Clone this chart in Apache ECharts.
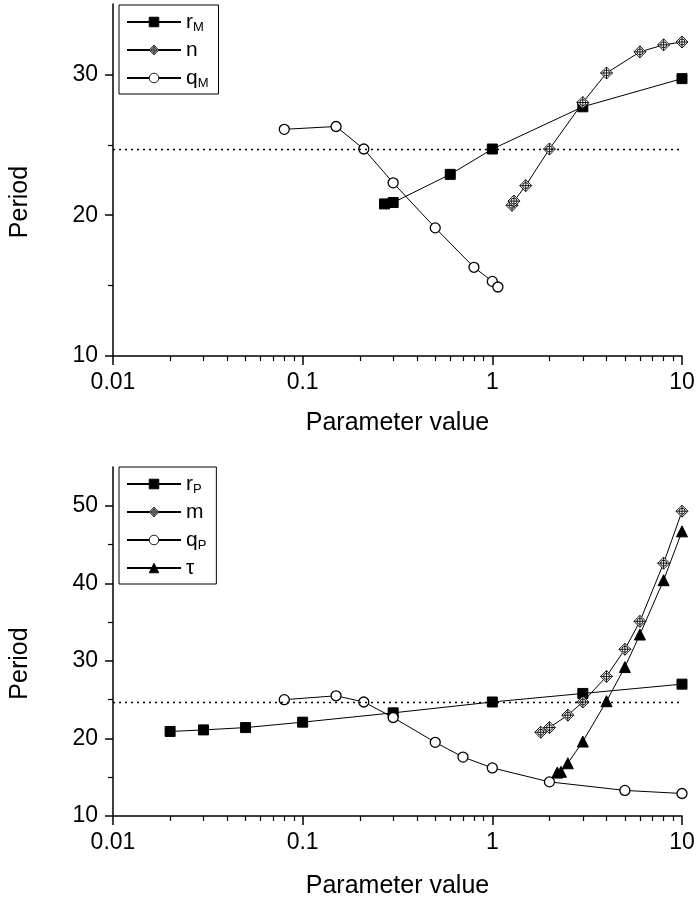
<!DOCTYPE html>
<html>
<head>
<meta charset="utf-8">
<script src="https://cdn.jsdelivr.net/npm/echarts@6/dist/echarts.min.js"></script>
<style>
  html, body { margin: 0; padding: 0; background: #fff; }
  #chart { width: 700px; height: 900px; }
</style>
</head>
<body>
<div id="chart"></div>
<script>
// data, [parameter value, period]
const rM = [[0.27, 20.8], [0.3, 20.9], [0.6, 22.9], [1, 24.7], [3, 27.7], [10, 29.7]]
const nVals = [[1.27, 20.7], [1.3, 21.0], [1.5, 22.1], [2, 24.7], [3, 28.0], [4, 30.1], [6, 31.6], [8, 32.1], [10, 32.3]]
const qM = [[0.08, 26.1], [0.15, 26.3], [0.21, 24.7], [0.3, 22.3], [0.5, 19.1], [0.8, 16.3], [1, 15.3], [1.07, 14.9]]

const rP = [[0.02, 20.9], [0.03, 21.1], [0.05, 21.4], [0.1, 22.1], [0.3, 23.3], [1, 24.7], [3, 25.8], [10, 27.0]]
const mVals = [[1.8, 20.8], [2, 21.4], [2.5, 23.0], [3, 24.7], [4, 28.0], [5, 31.5], [6, 35.1], [8, 42.6], [10, 49.3]]
const qP = [[0.08, 25.0], [0.15, 25.5], [0.21, 24.7], [0.3, 22.7], [0.5, 19.5], [0.7, 17.6], [1, 16.2], [2, 14.4], [5, 13.3], [10, 12.9]]
const tau = [[2.2, 15.6], [2.3, 15.7], [2.5, 16.8], [3, 19.6], [4, 24.8], [5, 29.2], [6, 33.4], [8, 40.4], [10, 46.7]]

const refPeriod = 24.7
const xMajorTicks = [0.01, 0.1, 1, 10]
const yTopMajor = [10, 20, 30]
const yTopMinor = [15, 25]
const yBotMajor = [10, 20, 30, 40, 50]
const yBotMinor = [15, 25, 35, 45]

// minor log ticks 2..9 in every decade
const xMinorTicks = []
for (const d of [0.01, 0.1, 1]) {
  for (let k = 2; k <= 9; k++) xMinorTicks.push(+(k * d).toFixed(4))
}

const FONT = 'Liberation Sans, Arial, sans-serif'
const diamondCross = 'path://M0,-10L10,0L0,10L-10,0Z M-5,0A5,5 0 1,1 5,0A5,5 0 1,1 -5,0Z M0,-10L0,10 M-10,0L10,0'

const chart = echarts.init(document.getElementById('chart'), null, { renderer: 'canvas' })

const grids = [
  { left: 103, top: 4, width: 579, height: 352 },
  { left: 103, top: 467, width: 579, height: 352 }
]

const axisLine = { show: true, lineStyle: { color: '#000', width: 1.5 } }

const makeX = (gridIndex, minor) => ({
  type: 'log',
  logBase: 10,
  gridIndex,
  min: 0.01,
  max: 10,
  position: 'bottom',
  name: minor ? '' : 'Parameter value',
  nameLocation: 'middle',
  nameGap: gridIndex === 0 ? 55 : 58,
  nameTextStyle: { fontFamily: FONT, fontSize: 25, color: '#000' },
  axisLine: minor ? { show: false } : axisLine,
  axisTick: minor
    ? { show: true, length: 5, customValues: xMinorTicks, lineStyle: { color: '#000', width: 1.2 } }
    : { show: true, length: 9, customValues: xMajorTicks, lineStyle: { color: '#000', width: 1.5 } },
  axisLabel: minor
    ? { show: false }
    : { show: true, customValues: xMajorTicks, margin: 15, fontFamily: FONT, fontSize: 23, color: '#000',
        formatter: v => String(v) },
  splitLine: { show: false },
  minorTick: { show: false }
})

const makeY = (gridIndex, max, major, minorVals, minor) => ({
  type: 'value',
  gridIndex,
  min: 10,
  max,
  interval: 10,
  position: 'left',
  name: minor ? '' : 'Period',
  nameLocation: 'middle',
  nameGap: 80,
  nameTextStyle: { fontFamily: FONT, fontSize: 25, color: '#000', padding: [0, 44, 0, 0] },
  axisLine: minor ? { show: false } : axisLine,
  axisTick: minor
    ? { show: true, length: 5, customValues: minorVals, lineStyle: { color: '#000', width: 1.2 } }
    : { show: true, length: 8, customValues: major, lineStyle: { color: '#000', width: 1.5 } },
  axisLabel: minor
    ? { show: false }
    : { show: true, customValues: major, margin: 15, fontFamily: FONT, fontSize: 23, color: '#000' },
  splitLine: { show: false }
})

const lineBase = { color: '#000', width: 1 }

const refLine = {
  silent: true,
  symbol: ['none', 'none'],
  label: { show: false },
  lineStyle: { color: '#000', type: [2, 4], width: 1.3 },
  data: [{ yAxis: refPeriod }]
}

const styles = {
  square: { symbol: 'rect', size: 10, item: { color: '#000', borderColor: '#000', borderWidth: 1 } },
  circle: { symbol: 'circle', size: 10, item: { color: '#fff', borderColor: '#000', borderWidth: 1.3 } },
  diamond: { symbol: diamondCross, size: 12, item: { color: '#fff', borderColor: '#000', borderWidth: 0.9 } },
  triangle: { symbol: 'triangle', size: 11, item: { color: '#000', borderColor: '#000', borderWidth: 1 } }
}

const makeSeries = (name, data, axisIdx, kind) => ({
  name,
  type: 'line',
  data,
  xAxisIndex: axisIdx,
  yAxisIndex: axisIdx,
  clip: false,
  showAllSymbol: true,
  symbol: styles[kind].symbol,
  symbolSize: styles[kind].size,
  itemStyle: styles[kind].item,
  lineStyle: lineBase,
  emphasis: { disabled: true },
  z: 3
})

const legendText = {
  fontFamily: FONT,
  fontSize: 21,
  color: '#000',
  lineHeight: 24,
  rich: {
    sub: { fontFamily: FONT, fontSize: 13, color: '#000', verticalAlign: 'bottom' }
  }
}

const legendBase = {
  orient: 'vertical',
  left: 119,
  borderColor: '#000',
  borderWidth: 1,
  itemWidth: 54,
  itemHeight: 12,
  itemGap: 4,
  padding: [5, 10, 4, 7],
  selectedMode: false,
  itemStyle: { borderWidth: 0.9 },
  textStyle: legendText,
  formatter: name => name.replace(/_(\w)/, '{sub|$1}')
}

const option = {
  backgroundColor: '#fff',
  animation: false,
  grid: grids,
  xAxis: [makeX(0, false), makeX(0, true), makeX(1, false), makeX(1, true)],
  yAxis: [
    makeY(0, 35, yTopMajor, yTopMinor, false),
    makeY(0, 35, yTopMajor, yTopMinor, true),
    makeY(1, 55, yBotMajor, yBotMinor, false),
    makeY(1, 55, yBotMajor, yBotMinor, true)
  ],
  legend: [
    Object.assign({}, legendBase, { top: 5, data: ['r_M', 'n', 'q_M'] }),
    Object.assign({}, legendBase, { top: 467, data: ['r_P', 'm', 'q_P', 'τ'] })
  ],
  series: [
    Object.assign(makeSeries('r_M', rM, 0, 'square'), { markLine: refLine }),
    makeSeries('n', nVals, 0, 'diamond'),
    makeSeries('q_M', qM, 0, 'circle'),
    Object.assign(makeSeries('r_P', rP, 2, 'square'), { markLine: refLine }),
    makeSeries('m', mVals, 2, 'diamond'),
    makeSeries('q_P', qP, 2, 'circle'),
    makeSeries('τ', tau, 2, 'triangle')
  ]
}

chart.setOption(option)
window.addEventListener('resize', () => chart.resize())
</script>
</body>
</html>
